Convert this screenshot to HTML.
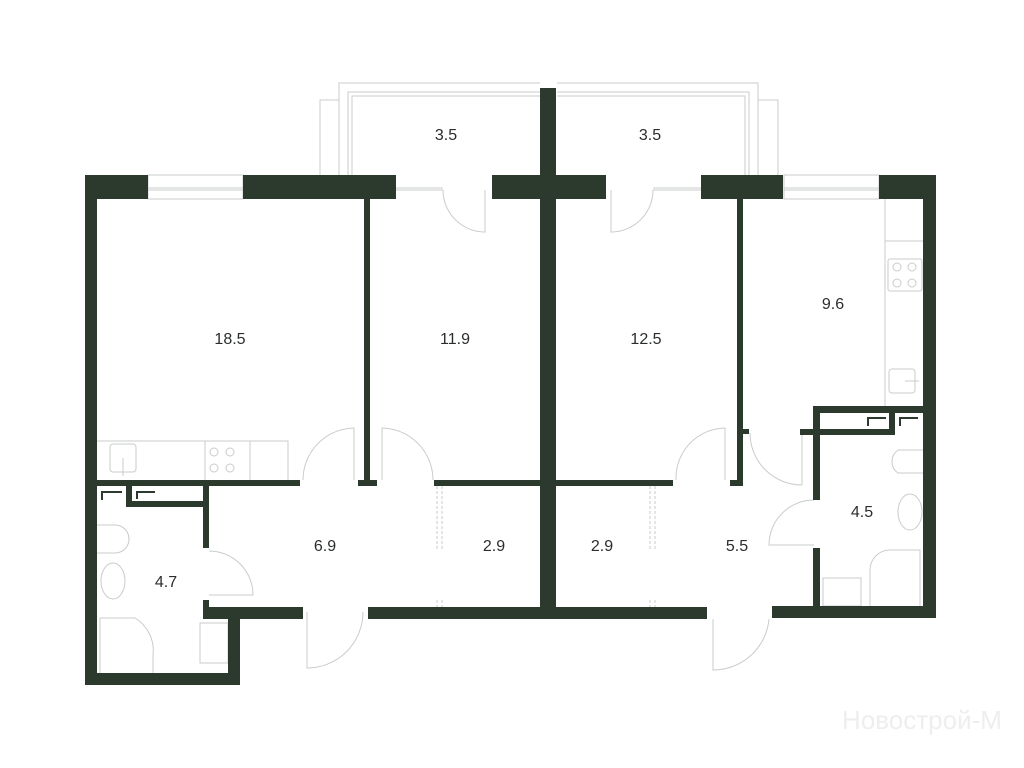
<!DOCTYPE html>
<html><head><meta charset="utf-8"><style>
html,body{margin:0;padding:0;background:#fff}
svg{display:block}
text{font-family:"Liberation Sans",sans-serif;font-size:16px;fill:#2a2e2b;text-anchor:middle}
</style></head><body>
<svg width="1024" height="768" viewBox="0 0 1024 768" xmlns="http://www.w3.org/2000/svg">
<g fill="none" stroke="#c9cccb" stroke-width="1">
<path d="M320 175 V100 H339 V83 H540"/>
<path d="M339 100 V175"/>
<path d="M348 175 V92 H540"/>
<path d="M352 175 V96 H540"/>
<path d="M778 175 V100 H758 V83 H557"/>
<path d="M758 100 V175"/>
<path d="M749 175 V92 H557"/>
<path d="M745 175 V96 H557"/>
<rect x="148" y="175" width="95" height="24"/>
<path d="M148 188 H243 M148 190 H243"/>
<rect x="784" y="175" width="95" height="24"/>
<path d="M784 188 H879 M784 190 H879"/>
<path d="M396 188 H443 M396 190 H443"/>
<path d="M653 188 H701 M653 190 H701"/>
<path d="M443 190 A42 42 0 0 0 485 232 V190"/>
<path d="M653 190 A42 42 0 0 1 611 232 V190"/>
<path d="M354 480 V428 A52 52 0 0 0 303 480"/>
<path d="M382 480 V428 A52 52 0 0 1 433 480"/>
<path d="M209 595 H253 A44 44 0 0 0 209 551"/>
<path d="M307 612 V668 A56 56 0 0 0 363 612"/>
<path d="M725 480 V428 A50 50 0 0 0 676 480"/>
<path d="M802 485 V433 M750 433 A52 52 0 0 0 802 485"/>
<path d="M814 545 H769 A45 45 0 0 1 814 500"/>
<path d="M713 619 V670 A56 56 0 0 0 769 619"/>
<path d="M437 486 V550 M442 486 V550 M437 600 V607 M442 600 V607" stroke-dasharray="3 2"/>
<path d="M650 486 V550 M655 486 V550 M650 600 V607 M655 600 V607" stroke-dasharray="3 2"/>
<path d="M97 441 H288 V480 M250 441 V480 M205 441 V480"/>
<rect x="110" y="444" width="26" height="28" rx="3"/>
<path d="M123 458 V476"/>
<circle cx="214" cy="452" r="4"/><circle cx="230" cy="452" r="4"/>
<circle cx="214" cy="468" r="4"/><circle cx="230" cy="468" r="4"/>
<path d="M885 199 V406 M885 241 H923"/>
<rect x="888" y="259" width="34" height="32" rx="2"/>
<circle cx="897" cy="267" r="4"/><circle cx="912" cy="267" r="4"/>
<circle cx="897" cy="283" r="4"/><circle cx="912" cy="283" r="4"/>
<rect x="889" y="369" width="26" height="24" rx="3"/>
<path d="M905 381 H919"/>
<path d="M97 525 H115 A14 14 0 0 1 115 553 H97"/>
<ellipse cx="113" cy="581" rx="12" ry="18"/>
<path d="M100 673 V618 H135 A38 38 0 0 1 153 655 V673"/>
<rect x="200" y="623" width="28" height="40"/>
<path d="M923 450 H898 A14 14 0 0 0 898 473 H923"/>
<ellipse cx="910" cy="512" rx="12" ry="18"/>
<path d="M870 606 V570 A20 20 0 0 1 890 550 H920 V606"/>
<rect x="823" y="578" width="38" height="28"/>
</g>
<g fill="#2c3a2e">
<rect x="85" y="175" width="63" height="24"/>
<rect x="243" y="175" width="153" height="24"/>
<rect x="492" y="175" width="114" height="24"/>
<rect x="701" y="175" width="82" height="24"/>
<rect x="879" y="175" width="57" height="24"/>
<rect x="540" y="88" width="16" height="531"/>
<rect x="85" y="175" width="12" height="510"/>
<rect x="85" y="673" width="155" height="12"/>
<rect x="228" y="607" width="12" height="78"/>
<rect x="203" y="607" width="100" height="12"/>
<rect x="368" y="607" width="339" height="12"/>
<rect x="772" y="606" width="164" height="12"/>
<rect x="923" y="175" width="13" height="443"/>
<rect x="364" y="199" width="6" height="287"/>
<rect x="97" y="480" width="203" height="6"/>
<rect x="358" y="480" width="19" height="6"/>
<rect x="434" y="480" width="106" height="6"/>
<rect x="556" y="480" width="117" height="6"/>
<rect x="737" y="199" width="6" height="287"/>
<rect x="730" y="480" width="13" height="6"/>
<rect x="743" y="429" width="6" height="5"/>
<rect x="203" y="486" width="6" height="62"/>
<rect x="203" y="600" width="6" height="7"/>
<rect x="126" y="486" width="6" height="21"/>
<rect x="126" y="501" width="83" height="6"/>
<rect x="813" y="406" width="110" height="7"/>
<rect x="813" y="406" width="7" height="94"/>
<rect x="813" y="548" width="7" height="59"/>
<rect x="800" y="429" width="95" height="6"/>
<rect x="889" y="413" width="6" height="22"/>
</g>
<g fill="#2c3a2e">
<path d="M101 491 H122 V493 H103 V500 H101Z"/>
<path d="M136 491 H155 V493 H138 V499 H136Z"/>
<path d="M867 417 H886 V419 H869 V426 H867Z"/>
<path d="M899 417 H918 V419 H901 V426 H899Z"/>
</g>
<text x="446" y="140">3.5</text>
<text x="650" y="140">3.5</text>
<text x="230" y="344">18.5</text>
<text x="455" y="344">11.9</text>
<text x="646" y="344">12.5</text>
<text x="833" y="309">9.6</text>
<text x="325" y="551">6.9</text>
<text x="494" y="551">2.9</text>
<text x="602" y="551">2.9</text>
<text x="737" y="551">5.5</text>
<text x="166" y="587">4.7</text>
<text x="862" y="517">4.5</text>
<text x="922" y="729" style="font-size:26px;fill:#eeeeee">Новострой-М</text>
</svg>
</body></html>
